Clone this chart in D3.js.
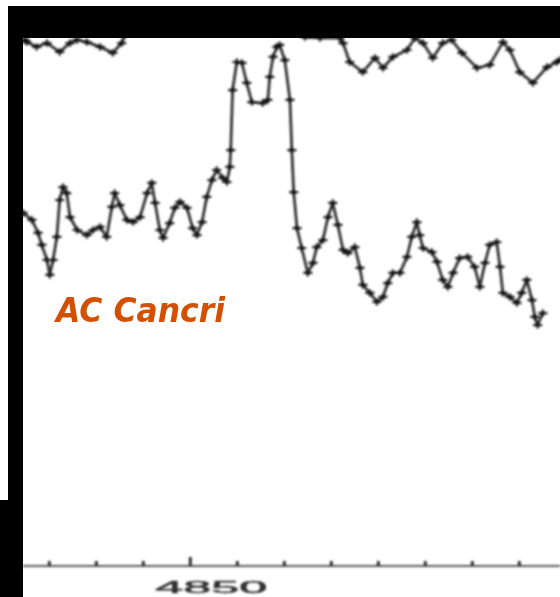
<!DOCTYPE html>
<html>
<head>
<meta charset="utf-8">
<script src="https://cdn.jsdelivr.net/npm/d3@7"></script>
<style>
  html, body { margin: 0; padding: 0; background: #fff; }
  svg { display: block; }
</style>
</head>
<body>
<svg id="chart" width="560" height="597"></svg>
<script>
// AC Cancri spectrum around H-beta: wavelength (Å) and relative flux
const wavelength = [4814.5,4816.4,4817.7,4818.5,4819.6,4820.2,4820.9,4821.7,4822.3,4823.0,4823.8,4824.5,4826.0,4828.1,4829.4,4830.9,4832.3,4833.4,4834.0,4835.1,4836.6,4837.9,4839.4,4840.9,4841.9,4842.6,4843.6,4844.3,4845.7,4846.8,4847.9,4849.4,4850.6,4851.5,4852.6,4853.6,4854.7,4855.7,4857.0,4857.9,4858.5,4858.7,4859.1,4860.0,4861.1,4862.1,4863.2,4865.5,4866.6,4867.0,4867.7,4868.5,4869.1,4870.2,4871.3,4871.7,4872.1,4872.8,4873.8,4875.1,4876.2,4877.0,4878.3,4879.4,4880.4,4881.5,4882.6,4883.6,4885.1,4886.2,4886.8,4888.3,4889.8,4891.1,4892.1,4893.2,4894.7,4896.2,4897.2,4898.3,4898.9,4899.6,4901.5,4902.6,4903.8,4904.9,4906.0,4907.4,4909.1,4910.6,4911.7,4912.8,4913.8,4915.3,4916.0,4916.6,4918.1,4919.6,4920.6,4921.7,4922.8,4923.4,4924.0,4925.1];
const flux = [1.471,1.442,1.388,1.338,1.275,1.213,1.275,1.371,1.525,1.579,1.554,1.454,1.400,1.379,1.400,1.413,1.371,1.496,1.554,1.504,1.442,1.433,1.454,1.554,1.596,1.513,1.400,1.367,1.429,1.492,1.517,1.492,1.408,1.379,1.433,1.538,1.608,1.650,1.617,1.600,1.663,1.733,1.983,2.100,2.096,2.013,1.933,1.929,1.942,2.038,2.121,2.163,2.171,2.108,1.942,1.733,1.558,1.408,1.325,1.221,1.263,1.329,1.358,1.454,1.513,1.421,1.317,1.304,1.329,1.242,1.171,1.138,1.100,1.121,1.179,1.221,1.221,1.288,1.371,1.433,1.379,1.325,1.308,1.267,1.192,1.163,1.221,1.283,1.288,1.246,1.163,1.263,1.338,1.350,1.246,1.138,1.121,1.096,1.138,1.192,1.108,1.038,1.004,1.054];

// Neighbouring spectrum plotted above (offset), mostly running off the top
const wavelengthUpper = [4814.9,4815.3,4817.4,4819.6,4822.3,4824.5,4826.0,4828.1,4830.9,4833.6,4835.5,4836.2,4838.3,4843.6,4852.1,4860.6,4869.1,4873.4,4874.5,4877.7,4881.9,4882.6,4884.0,4886.8,4889.4,4891.1,4893.2,4896.2,4897.9,4899.6,4901.7,4903.8,4905.7,4907.9,4911.1,4913.8,4916.6,4918.1,4920.2,4923.0,4926.0,4928.1,4928.7];
const fluxUpper = [2.192,2.183,2.163,2.179,2.142,2.179,2.192,2.183,2.163,2.138,2.179,2.213,2.233,2.254,2.242,2.317,2.296,2.225,2.204,2.200,2.200,2.179,2.100,2.058,2.117,2.075,2.121,2.150,2.200,2.179,2.117,2.179,2.192,2.138,2.075,2.088,2.183,2.150,2.058,2.013,2.079,2.100,2.108];

const tickValues = [4820,4830,4840,4850,4860,4870,4880,4890,4900,4910,4920];
const labelledTicks = [4850];
const title = "AC Cancri";

const svg = d3.select("#chart");
const plot = { left: 23, right: 560, top: 38, bottom: 566 };

const x = d3.scaleLinear()
  .domain([4814.5, 4928.76])
  .range([plot.left, plot.right]);
const y = d3.scaleLinear()
  .domain([0, 2.2])
  .range([plot.bottom, plot.bottom - 2.2 * 240]);

const defs = svg.append("defs");
defs.append("clipPath").attr("id", "plotClip")
  .append("rect")
  .attr("x", plot.left).attr("y", plot.top)
  .attr("width", plot.right - plot.left).attr("height", plot.bottom - plot.top);
defs.append("filter").attr("id", "soft")
  .attr("x", "-5%").attr("y", "-5%").attr("width", "110%").attr("height", "110%")
  .append("feGaussianBlur").attr("stdDeviation", 0.8);

// Axis along the bottom, ticks pointing up into the plot
const axis = d3.axisBottom(x)
  .tickValues(tickValues)
  .tickSize(0)
  .tickFormat("");
const axisG = svg.append("g")
  .attr("transform", `translate(0,${plot.bottom})`)
  .attr("filter", "url(#soft)")
  .call(axis);
axisG.select(".domain")
  .attr("d", `M${plot.left},0H${plot.right}`)
  .attr("stroke", "#222").attr("stroke-width", 1.4);
axisG.selectAll(".tick line")
  .attr("y2", d => labelledTicks.includes(d) ? -9 : -5)
  .attr("stroke", "#333").attr("stroke-width", 3);
axisG.selectAll(".tick")
  .filter(d => labelledTicks.includes(d))
  .append("text")
  .attr("x", 21).attr("y", 27)
  .attr("text-anchor", "middle")
  .attr("fill", "#333")
  .attr("stroke", "#333").attr("stroke-width", 0.5)
  .attr("font-family", "Liberation Sans, Arial, sans-serif")
  .attr("font-size", 16)
  .attr("textLength", 112)
  .attr("lengthAdjust", "spacingAndGlyphs")
  .text(d => d);

// Spectra drawn as lines with "+" markers at each sample
function drawSpectrum(lam, f) {
  const pts = lam.map((l, i) => [x(l), y(f[i])]);
  const g = svg.append("g")
    .attr("clip-path", "url(#plotClip)")
    .append("g")
    .attr("filter", "url(#soft)");
  g.append("path")
    .datum(pts)
    .attr("fill", "none")
    .attr("stroke", "#303030")
    .attr("stroke-width", 2.8)
    .attr("stroke-linejoin", "round")
    .attr("d", d3.line());
  g.selectAll("path.mark")
    .data(pts)
    .join("path")
    .attr("class", "mark")
    .attr("d", d => `M${d[0] - 4.5},${d[1]}H${d[0] + 4.5}M${d[0]},${d[1] - 3.5}V${d[1] + 3.5}`)
    .attr("stroke", "#111")
    .attr("stroke-width", 2.2);
}
drawSpectrum(wavelength, flux);
drawSpectrum(wavelengthUpper, fluxUpper);

// Object name
svg.append("text")
  .attr("x", 56).attr("y", 322)
  .attr("fill", "#d35000")
  .attr("font-family", "DejaVu Sans, sans-serif")
  .attr("font-weight", "bold")
  .attr("font-style", "italic")
  .attr("font-size", 33)
  .attr("textLength", 169)
  .attr("lengthAdjust", "spacingAndGlyphs")
  .text(title);

// Black frame edges
svg.append("rect").attr("x", 8).attr("y", 6).attr("width", 552).attr("height", 32).attr("fill", "#000");
svg.append("rect").attr("x", 8).attr("y", 6).attr("width", 15).attr("height", 591).attr("fill", "#000");
svg.append("rect").attr("x", 0).attr("y", 500).attr("width", 23).attr("height", 97).attr("fill", "#000");
</script>
</body>
</html>
